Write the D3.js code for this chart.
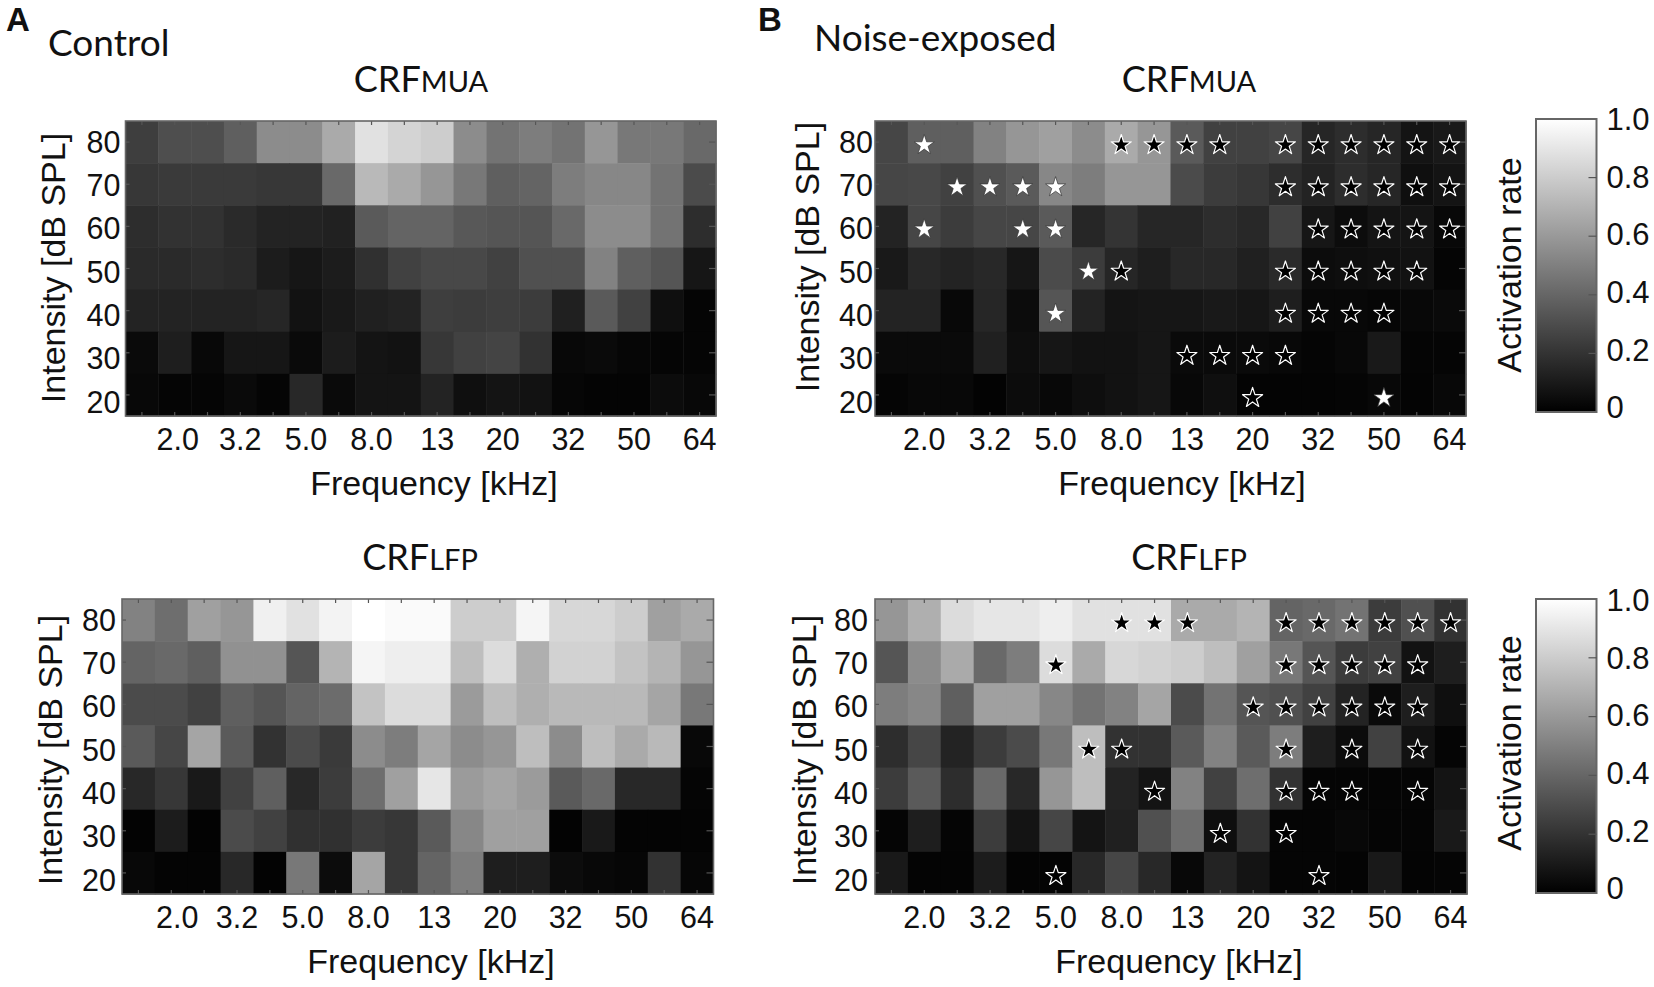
<!DOCTYPE html>
<html>
<head>
<meta charset="utf-8">
<script src="https://cdnjs.cloudflare.com/ajax/libs/d3/7.8.5/d3.min.js"></script>
<style>
  html, body { margin: 0; padding: 0; background: #fff; }
  svg { display: block; }
  text { fill: #111; font-family: "Liberation Sans", Arial, sans-serif; }
  .title { font-family: Lato, "Open Sans", sans-serif; }
</style>
</head>
<body>
<svg id="fig" width="1654" height="987"></svg>
<script>
// grid of the maps
const frequencies = ["1.6", "2.0", "2.5", "3.2", "4.0", "5.0", "6.4", "8.0", "10", "13", "16", "20", "25", "32", "40", "50", "57", "64"];
const freqLabels = ["2.0", "3.2", "5.0", "8.0", "13", "20", "32", "50", "64"];
const intensities = [80, 70, 60, 50, 40, 30, 20];
const barTicks = [0, 0.2, 0.4, 0.6, 0.8, 1];

const controlMua = [
  [62, 78, 78, 95, 140, 140, 170, 225, 212, 205, 140, 115, 125, 115, 150, 120, 120, 105],
  [55, 58, 58, 58, 55, 55, 105, 185, 170, 150, 120, 95, 100, 125, 135, 135, 115, 75],
  [45, 50, 50, 42, 35, 35, 33, 90, 100, 100, 88, 85, 85, 105, 140, 140, 115, 45],
  [42, 42, 45, 42, 28, 22, 28, 48, 65, 72, 72, 65, 80, 80, 130, 95, 85, 22],
  [35, 35, 35, 35, 38, 18, 25, 32, 35, 62, 60, 62, 60, 32, 90, 65, 15, 5],
  [10, 30, 8, 22, 22, 10, 28, 20, 18, 55, 65, 68, 50, 8, 10, 6, 5, 5],
  [8, 5, 5, 10, 5, 40, 10, 20, 20, 35, 15, 20, 18, 6, 4, 4, 12, 8]
];
const noiseMua = [
  [70, 95, 95, 130, 150, 160, 140, 170, 150, 90, 65, 65, 70, 38, 45, 38, 20, 25],
  [70, 72, 65, 80, 90, 135, 125, 150, 150, 75, 60, 55, 45, 35, 45, 38, 15, 20],
  [35, 70, 60, 70, 70, 90, 38, 52, 38, 38, 45, 40, 65, 22, 12, 20, 20, 8],
  [25, 40, 35, 40, 22, 75, 60, 38, 30, 40, 40, 32, 42, 12, 14, 16, 18, 5],
  [35, 35, 8, 38, 12, 85, 35, 20, 22, 22, 25, 22, 30, 8, 8, 6, 8, 10],
  [10, 10, 10, 32, 14, 22, 18, 18, 22, 10, 10, 10, 8, 5, 8, 25, 5, 5],
  [5, 8, 8, 3, 12, 8, 14, 18, 22, 8, 15, 4, 4, 4, 5, 8, 4, 8]
];
const controlLfp = [
  [130, 110, 160, 150, 240, 225, 243, 255, 250, 250, 205, 205, 245, 215, 215, 205, 160, 170],
  [100, 105, 95, 145, 145, 85, 180, 245, 238, 238, 190, 220, 175, 210, 210, 195, 180, 150],
  [75, 75, 65, 95, 85, 100, 108, 195, 220, 220, 155, 190, 175, 185, 185, 185, 165, 120],
  [90, 70, 165, 90, 50, 75, 58, 140, 125, 165, 140, 150, 190, 140, 190, 170, 185, 8],
  [40, 55, 25, 65, 95, 40, 60, 110, 160, 230, 155, 165, 155, 90, 105, 40, 40, 5],
  [3, 28, 3, 75, 65, 48, 48, 60, 55, 90, 135, 160, 160, 3, 25, 4, 4, 4],
  [8, 4, 4, 40, 3, 120, 12, 165, 55, 100, 125, 30, 30, 12, 8, 6, 50, 6]
];
const noiseLfp = [
  [150, 175, 220, 230, 230, 238, 225, 225, 225, 170, 170, 180, 100, 105, 115, 60, 80, 50],
  [85, 140, 170, 105, 125, 220, 170, 215, 210, 205, 190, 160, 120, 85, 60, 65, 18, 30],
  [125, 135, 95, 160, 160, 135, 115, 130, 165, 75, 115, 85, 80, 65, 35, 10, 30, 15],
  [45, 70, 35, 60, 75, 120, 190, 50, 50, 90, 130, 90, 125, 30, 12, 65, 18, 5],
  [60, 90, 45, 105, 40, 150, 190, 35, 20, 130, 65, 110, 50, 5, 5, 5, 5, 20],
  [5, 30, 5, 60, 20, 70, 20, 32, 80, 110, 14, 50, 5, 5, 8, 5, 5, 25],
  [25, 4, 4, 28, 4, 4, 40, 70, 40, 8, 35, 20, 5, 5, 4, 25, 4, 5]
];

// significance stars, one char per cell: w = white star, b = black star
const noiseMuaStars = [
  ".w.....bbbb.bbbbbb",
  "..wwww......bbbbbb",
  ".w..ww.......bbbbb",
  "......wb....bbbbb.",
  ".....w......bbbb..",
  ".........bbbb.....",
  "...........b...w.."
];
const noiseLfpStars = [
  ".......bbb..bbbbbb",
  ".....b......bbbbb.",
  "...........bbbbbb.",
  "......bb....b.b.b.",
  "........b...bbb.b.",
  "..........b.b.....",
  ".....b.......b...."
];

const svg = d3.select("#fig");
const grey = d3.scaleLinear().domain([0, 1]).range(["#000", "#fff"]);
const star = d3.symbol().type(d3.symbolStar).size(125);
const frameColor = "#666";

function drawMap(box, levels, stars, lab) {
  const x = d3.scaleBand().domain(frequencies).range([box.x0, box.x1]);
  const y = d3.scaleBand().domain(intensities).range([box.y0, box.y1]);
  const g = svg.append("g");

  intensities.forEach((db, r) => {
    g.selectAll(null)
      .data(levels[r])
      .enter().append("rect")
      .attr("x", (d, c) => x(frequencies[c]))
      .attr("y", y(db))
      .attr("width", x.bandwidth() + 0.5)
      .attr("height", y.bandwidth() + 0.5)
      .attr("fill", d => grey(d / 255));
  });

  // ticks point into the map on all four sides
  const bottom = g.append("g").attr("transform", `translate(0,${box.y1})`)
    .call(d3.axisBottom(x).tickSize(-4).tickPadding(12)
      .tickFormat(d => freqLabels.includes(d) ? d : ""));
  bottom.selectAll("text").attr("font-size", 30.5).attr("dx", d => d === "2.0" ? box.nudge : 0);
  const left = g.append("g").attr("transform", `translate(${box.x0},0)`)
    .call(d3.axisLeft(y).tickSize(-4).tickPadding(box.pad));
  left.selectAll("text").attr("font-size", 30.5).attr("y", d => 1 + (80 - d) / 60 * 7);
  g.append("g").attr("transform", `translate(0,${box.y0})`)
    .call(d3.axisTop(x).tickSize(-4).tickFormat(""));
  g.append("g").attr("transform", `translate(${box.x1},0)`)
    .call(d3.axisRight(y).tickSize(-7).tickFormat(""));
  g.selectAll(".tick line").attr("stroke", "#555").attr("stroke-width", 1.2);
  g.selectAll(".domain").attr("stroke", "none");

  g.append("rect")
    .attr("x", box.x0).attr("y", box.y0)
    .attr("width", box.x1 - box.x0).attr("height", box.y1 - box.y0)
    .attr("fill", "none").attr("stroke", frameColor).attr("stroke-width", 1.6);

  if (stars) {
    intensities.forEach((db, r) => {
      frequencies.forEach((f, c) => {
        const s = stars[r][c];
        if (s === ".") return;
        g.append("path")
          .attr("d", star())
          .attr("transform", `translate(${x(f) + x.bandwidth() / 2},${y(db) + y.bandwidth() / 2 + 3})`)
          .attr("fill", s === "w" ? "#fff" : "#000")
          .attr("stroke", s === "w" ? "#333" : "#fff")
          .attr("stroke-width", s === "w" ? 0.7 : 1.2)
          .attr("stroke-linejoin", "round");
      });
    });
  }

  g.append("text")
    .attr("x", lab.fx).attr("y", lab.fy)
    .attr("text-anchor", "middle").attr("font-size", 34)
    .text("Frequency [kHz]");
  g.append("text")
    .attr("transform", `translate(${lab.ix},${lab.iy}) rotate(-90)`)
    .attr("text-anchor", "middle").attr("font-size", 34)
    .text("Intensity [dB SPL]");
  const t = g.append("text").attr("class", "title")
    .attr("x", lab.tx).attr("y", lab.ty)
    .attr("text-anchor", "middle").attr("font-size", 36)
    .text("CRF");
  t.append("tspan").attr("font-size", 29).text(lab.sub);
}

function drawBar(box, titleY, labelTop, labelBottom) {
  const y = d3.scaleLinear().domain([0, 1]).range([box.y1, box.y0]);
  const labelY = d3.scaleLinear().domain([0, 1]).range([labelBottom, labelTop]);
  const id = "bar" + Math.round(box.y0);
  const grad = svg.append("defs").append("linearGradient")
    .attr("id", id).attr("x1", 0).attr("x2", 0).attr("y1", 1).attr("y2", 0);
  grad.selectAll("stop").data([0, 1]).enter().append("stop")
    .attr("offset", d => d).attr("stop-color", d => grey(d));
  svg.append("rect")
    .attr("x", box.x0).attr("y", box.y0)
    .attr("width", box.x1 - box.x0).attr("height", box.y1 - box.y0)
    .attr("fill", `url(#${id})`)
    .attr("stroke", frameColor).attr("stroke-width", 2);
  svg.selectAll(null)
    .data(barTicks.filter(d => d > 0 && d < 1))
    .enter().append("line")
    .attr("x1", box.x1 - 8).attr("x2", box.x1)
    .attr("y1", d => y(d)).attr("y2", d => y(d))
    .attr("stroke", "#555").attr("stroke-width", 1.2);
  svg.selectAll(null)
    .data(barTicks)
    .enter().append("text")
    .attr("x", box.x1 + 10)
    .attr("y", d => labelY(d))
    .attr("dy", "0.36em")
    .attr("font-size", 31)
    .text(d => d === 0 ? "0" : d3.format(".1f")(d));
  svg.append("text")
    .attr("transform", `translate(1521,${titleY}) rotate(-90)`)
    .attr("text-anchor", "middle").attr("font-size", 34)
    .text("Activation rate");
}

drawMap({ x0: 125.5, x1: 716, y0: 121, y1: 416, pad: 5, nudge: 3 }, controlMua, null,
  { fx: 434, fy: 495, ix: 65, iy: 268, tx: 421, ty: 92, sub: "MUA" });
drawMap({ x0: 875, x1: 1466, y0: 121, y1: 416, pad: 2, nudge: 0 }, noiseMua, noiseMuaStars,
  { fx: 1182, fy: 495, ix: 819, iy: 257, tx: 1189, ty: 92, sub: "MUA" });
drawMap({ x0: 122, x1: 713.5, y0: 599, y1: 894, pad: 6, nudge: 6 }, controlLfp, null,
  { fx: 431, fy: 973, ix: 62, iy: 750, tx: 420, ty: 570, sub: "LFP" });
drawMap({ x0: 875, x1: 1467, y0: 599, y1: 894, pad: 7, nudge: 0 }, noiseLfp, noiseLfpStars,
  { fx: 1179, fy: 973, ix: 816, iy: 750, tx: 1189, ty: 570, sub: "LFP" });

drawBar({ x0: 1536, x1: 1596.5, y0: 119, y1: 412 }, 265, 119, 407);
drawBar({ x0: 1536, x1: 1596.5, y0: 599, y1: 893 }, 743, 600, 888);

// panel letters and group names
svg.append("text").attr("x", 6).attr("y", 31)
  .attr("font-size", 33).attr("font-weight", "bold").text("A");
svg.append("text").attr("x", 758).attr("y", 31)
  .attr("font-size", 33).attr("font-weight", "bold").text("B");
svg.append("text").attr("class", "title").attr("x", 48).attr("y", 56)
  .attr("font-size", 37).text("Control");
svg.append("text").attr("class", "title").attr("x", 814).attr("y", 51)
  .attr("font-size", 37).text("Noise-exposed");
</script>
</body>
</html>
